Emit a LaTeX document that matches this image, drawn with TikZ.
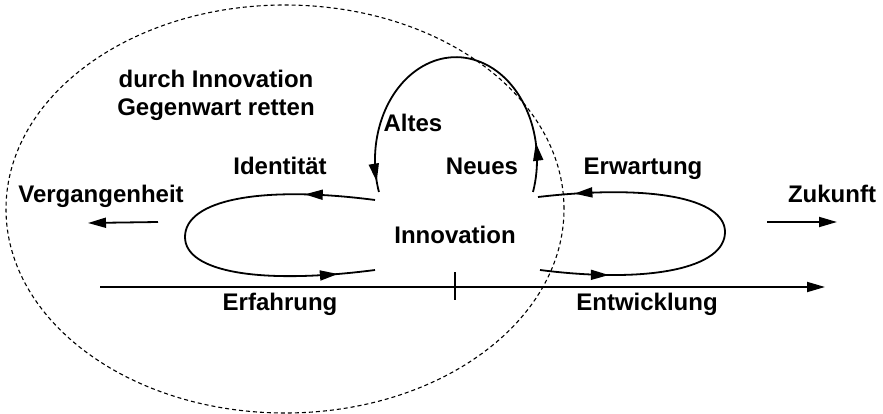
\documentclass[tikz,border=0pt]{standalone}
\usepackage{fontspec}
\setmainfont{Liberation Sans}
\usetikzlibrary{arrows.meta, positioning, decorations.markings}

\begin{document}
\begin{tikzpicture}  [
        x = 1pt, y = -1pt,
        >={Triangle[length=18pt, width=10pt]},
        word/.style = {font=\bfseries\fontsize{24}{28}\selectfont, anchor=base, inner sep=0pt},
        flow/.style = {line width=1.8pt, ->},
        ring/.style 2 args = {line width=1.8pt,
            decoration={markings,
                mark=at position #1 with {\arrow{>}},
                mark=at position #2 with {\arrow{>}}},
            postaction={decorate}}
    ]
    \useasboundingbox (0,0) rectangle (883,414);

    % dashed border
    \draw[line width=1.1pt, dash pattern=on 4pt off 3pt] (285,209) ellipse [x radius=279pt, y radius=204pt];

    \node[word] (durch) at (216,88)  {durch Innovation};
    \node[word] (gegen) at (216,116) {Gegenwart retten};
    \node[word] (alt)   at (413,132) {Altes};
    \node[word] (neu)   at (482,175) {Neues};
    \node[word] (ident) at (280,175) {Identität};
    \node[word] (erw)   at (643,175) {Erwartung};
    \node[word] (verg)  at (101,203) {Vergangenheit};
    \node[word] (zuk)   at (832,203) {Zukunft};
    \node[word] (inno)  at (455,243) {Innovation};
    \node[word] (erf)   at (280,310) {Erfahrung};
    \node[word] (entw)  at (647,310) {Entwicklung};

    \coordinate (archR) at (533,192);
    \coordinate (idT)   at (375,200);
    \coordinate (idB)   at (375,270);
    \coordinate (erB)   at (540,270);
    \coordinate (erT)   at (538,197);
    \coordinate (vA)    at (158,222);
    \coordinate (vB)    at (88,223);
    \coordinate (zA)    at (767,222);
    \coordinate (zB)    at (837,222);
    \coordinate (t0)    at (100,287);
    \coordinate (t1)    at (825,287);
    \coordinate (tkA)   at (455,272);
    \coordinate (tkB)   at (455,300);

    % loops
    \draw[ring={0.14}{0.97}] (archR) arc [start angle=-18, end angle=198, x radius=81pt, y radius=103pt];
    \draw[ring={0.17}{0.91}] (idT) .. controls (260,185) and (185,200) .. (185,237)
                                   .. controls (185,272) and (260,285) .. (idB);
    \draw[ring={0.17}{0.91}] (erB) .. controls (650,284) and (725,268) .. (725,232)
                                   .. controls (725,198) and (650,184) .. (erT);

    \draw[flow] (vA) -- (vB);
    \draw[flow] (zA) -- (zB);
    \draw[flow] (t0) -- (t1);
    \draw[line width=1.2pt] (tkA) -- (tkB);

\end{tikzpicture}
\end{document}
